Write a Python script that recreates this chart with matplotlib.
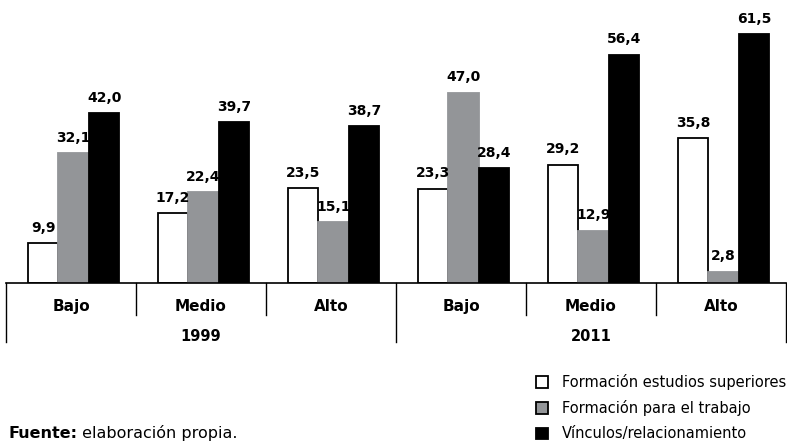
import numpy as np
import matplotlib.pyplot as plt
from matplotlib.patches import Patch

# data
years = ['1999', '2011']
levels = ['Bajo', 'Medio', 'Alto']
series = ['Formación estudios superiores', 'Formación para el trabajo', 'Vínculos/relacionamiento']
estudios = [9.9, 17.2, 23.5, 23.3, 29.2, 35.8]
trabajo = [32.1, 22.4, 15.1, 47.0, 12.9, 2.8]
vinculos = [42.0, 39.7, 38.7, 28.4, 56.4, 61.5]

colors = ['white', '#939598', 'black']
edges = ['black', '#939598', 'black']

fig = plt.figure(figsize=(7.87, 4.43), dpi=100)
ax = fig.add_axes([6/787, 160/443, 780/787, 283/443])

x = np.arange(6) + 0.52
w = 0.235
for k, vals in enumerate([estudios, trabajo, vinculos]):
    xs = x + (k - 1) * w
    ax.bar(xs, vals, width=w, color=colors[k], edgecolor=edges[k], linewidth=1.3)
    for xi, v in zip(xs, vals):
        ax.annotate(f'{v:.1f}'.replace('.', ','), (xi, v), xytext=(0, 6),
                    textcoords='offset points', ha='center', va='bottom',
                    fontsize=10, fontweight='bold', family='DejaVu Sans')

ax.set_xlim(0, 6)
ax.set_ylim(0, 69.9)
for s in ['top', 'right', 'left']:
    ax.spines[s].set_visible(False)
ax.spines['bottom'].set_linewidth(1.2)
ax.set_xticks([])
ax.set_yticks([])

# category / year axis below the bars
tr = ax.get_xaxis_transform()
for i in range(7):
    bottom = -0.21 if i % 3 == 0 else -0.113
    ax.plot([i, i], [0, bottom], transform=tr, color='black', lw=1.0, clip_on=False)
for i in range(6):
    ax.text(i + 0.5, -0.082, levels[i % 3], transform=tr, ha='center', va='center',
            fontsize=11, fontweight='bold', family='DejaVu Sans')
for j, yr in enumerate(years):
    ax.text(3 * j + 1.5, -0.19, yr, transform=tr, ha='center', va='center',
            fontsize=10.5, fontweight='bold', family='DejaVu Sans')

handles = [Patch(facecolor=c, edgecolor='black', linewidth=1.3) for c in colors]
fig.legend(handles, series, loc='upper left', bbox_to_anchor=(536/787, 1 - 374/443),
           frameon=False, handlelength=0.85, handleheight=0.85, handletextpad=0.95,
           labelspacing=0.7, borderpad=0, borderaxespad=0,
           prop={'family': 'DejaVu Sans', 'size': 10.5})

src = fig.text(8/787, 1 - 433/443, 'Fuente:', fontsize=11.5, fontweight='bold',
               family='DejaVu Sans', va='center')
ax.annotate(' elaboración propia.', xy=(1, 0.5), xycoords=src, va='center',
            fontsize=11.5, family='DejaVu Sans')

fig.savefig('out.png', dpi=100)
